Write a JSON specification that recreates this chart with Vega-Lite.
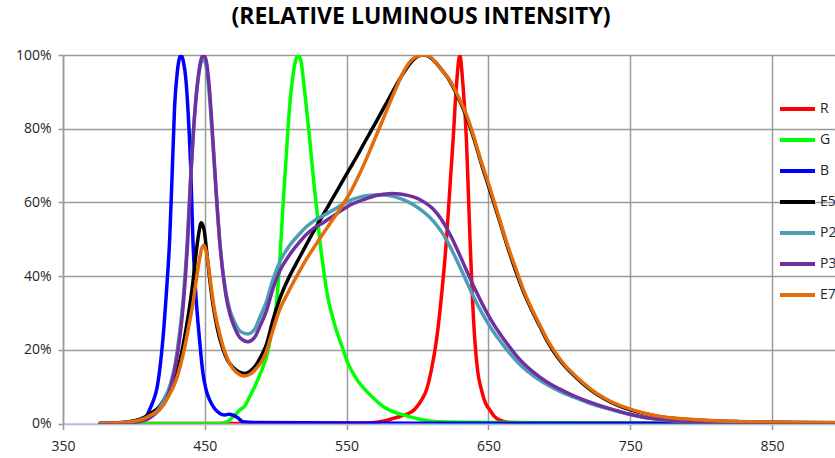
{
  "$schema": "https://vega.github.io/schema/vega-lite/v6.json",
  "autosize": {"type": "none"},
  "padding": {"left": 63, "top": 55, "right": 0, "bottom": 34.5},
  "width": 772,
  "height": 368.5,
  "background": "white",
  "title": {"text": "(RELATIVE LUMINOUS INTENSITY)", "font": "Open Sans", "fontSize": 23, "fontWeight": "bold", "color": "#000000", "anchor": "middle", "frame": "group", "dx": -28, "baseline": "alphabetic", "offset": 1},
  "config": {
    "view": {"stroke": null},
    "axis": {"labelFont": "Open Sans", "labelFontSize": 14, "labelColor": "#262626", "gridColor": "#9a9a9a", "gridWidth": 1.5, "tickColor": "#9a9a9a", "tickWidth": 1.5, "title": null}
  },
  "data": {"values": [
    {"s":"R","x":376,"y":0},{"s":"R","x":500,"y":0},{"s":"R","x":560,"y":0.1},{"s":"R","x":570,"y":0.3},{"s":"R","x":578,"y":0.8},{"s":"R","x":583,"y":1.4},{"s":"R","x":587.5,"y":1.9},{"s":"R","x":593,"y":2.6},{"s":"R","x":597,"y":3.5},{"s":"R","x":600,"y":4.8},{"s":"R","x":603,"y":6.5},{"s":"R","x":606.3,"y":9.1},{"s":"R","x":610,"y":15},{"s":"R","x":613.4,"y":22.7},{"s":"R","x":617,"y":35},{"s":"R","x":620.4,"y":49.8},{"s":"R","x":623,"y":65},{"s":"R","x":625.1,"y":77},{"s":"R","x":627.5,"y":92},{"s":"R","x":629.8,"y":100},{"s":"R","x":632,"y":92},{"s":"R","x":634.5,"y":77},{"s":"R","x":636,"y":61},{"s":"R","x":637,"y":50},{"s":"R","x":638.5,"y":36},{"s":"R","x":640.4,"y":22.7},{"s":"R","x":642.5,"y":14},{"s":"R","x":645.1,"y":9.1},{"s":"R","x":648,"y":5.5},{"s":"R","x":651,"y":3.7},{"s":"R","x":654,"y":2},{"s":"R","x":658,"y":0.9},{"s":"R","x":665,"y":0.3},{"s":"R","x":700,"y":0.1},{"s":"R","x":900,"y":0},
    {"s":"G","x":376,"y":0},{"s":"G","x":460,"y":0},{"s":"G","x":466,"y":0.5},{"s":"G","x":469,"y":1.5},{"s":"G","x":472,"y":2.6},{"s":"G","x":475,"y":3.8},{"s":"G","x":478,"y":4.6},{"s":"G","x":481,"y":6.8},{"s":"G","x":484,"y":9},{"s":"G","x":488,"y":12.5},{"s":"G","x":491,"y":15.3},{"s":"G","x":493.4,"y":18},{"s":"G","x":496,"y":22.5},{"s":"G","x":498.5,"y":27.5},{"s":"G","x":500.4,"y":32},{"s":"G","x":503,"y":45},{"s":"G","x":505.1,"y":58.8},{"s":"G","x":507.5,"y":73},{"s":"G","x":509.8,"y":86},{"s":"G","x":512,"y":94},{"s":"G","x":514,"y":98.5},{"s":"G","x":516,"y":100},{"s":"G","x":518,"y":98},{"s":"G","x":520,"y":91.5},{"s":"G","x":521.6,"y":86},{"s":"G","x":524,"y":77},{"s":"G","x":527,"y":65},{"s":"G","x":529,"y":58},{"s":"G","x":531,"y":50},{"s":"G","x":533.5,"y":42.5},{"s":"G","x":535.7,"y":36.5},{"s":"G","x":538,"y":32},{"s":"G","x":540.4,"y":28.5},{"s":"G","x":543,"y":25},{"s":"G","x":545.1,"y":22.7},{"s":"G","x":548,"y":19.5},{"s":"G","x":550,"y":17.2},{"s":"G","x":554,"y":14},{"s":"G","x":558,"y":11.5},{"s":"G","x":564,"y":8.8},{"s":"G","x":570,"y":6.5},{"s":"G","x":575.7,"y":4.6},{"s":"G","x":581,"y":3.5},{"s":"G","x":587.5,"y":2.6},{"s":"G","x":593,"y":2},{"s":"G","x":599,"y":1.4},{"s":"G","x":605,"y":0.9},{"s":"G","x":615,"y":0.5},{"s":"G","x":650,"y":0.3},{"s":"G","x":700,"y":0.2},{"s":"G","x":750,"y":0.1},{"s":"G","x":900,"y":0},
    {"s":"B","x":376,"y":0},{"s":"B","x":400,"y":0.3},{"s":"B","x":405,"y":0.8},{"s":"B","x":408,"y":1.5},{"s":"B","x":411,"y":3.7},{"s":"B","x":414,"y":6.5},{"s":"B","x":416,"y":9.1},{"s":"B","x":418,"y":14},{"s":"B","x":420.4,"y":22.7},{"s":"B","x":423,"y":36},{"s":"B","x":425.2,"y":49.8},{"s":"B","x":427,"y":68},{"s":"B","x":428.7,"y":86},{"s":"B","x":430.5,"y":95},{"s":"B","x":432,"y":99},{"s":"B","x":433.4,"y":100},{"s":"B","x":435,"y":98},{"s":"B","x":436.5,"y":94},{"s":"B","x":438,"y":86},{"s":"B","x":440,"y":70},{"s":"B","x":441.6,"y":50},{"s":"B","x":443.5,"y":36},{"s":"B","x":446.3,"y":22.7},{"s":"B","x":448.7,"y":13.6},{"s":"B","x":451,"y":9},{"s":"B","x":453.4,"y":6.4},{"s":"B","x":457,"y":4},{"s":"B","x":460.4,"y":2.8},{"s":"B","x":464,"y":2.3},{"s":"B","x":467,"y":2.5},{"s":"B","x":469.6,"y":2.3},{"s":"B","x":473,"y":1.6},{"s":"B","x":476.9,"y":0.5},{"s":"B","x":485,"y":0.3},{"s":"B","x":520,"y":0.2},{"s":"B","x":600,"y":0.1},{"s":"B","x":900,"y":0.1},
    {"s":"E5","x":376,"y":0},{"s":"E5","x":385,"y":0.1},{"s":"E5","x":395,"y":0.4},{"s":"E5","x":402,"y":0.9},{"s":"E5","x":407,"y":1.6},{"s":"E5","x":412,"y":2.8},{"s":"E5","x":418,"y":4.6},{"s":"E5","x":422,"y":7},{"s":"E5","x":426,"y":10},{"s":"E5","x":430,"y":13.8},{"s":"E5","x":433,"y":18},{"s":"E5","x":436,"y":24},{"s":"E5","x":439,"y":31},{"s":"E5","x":441.5,"y":38},{"s":"E5","x":443.5,"y":45},{"s":"E5","x":445.5,"y":51},{"s":"E5","x":447.5,"y":54.5},{"s":"E5","x":449.5,"y":52.5},{"s":"E5","x":451.5,"y":46},{"s":"E5","x":453.5,"y":39},{"s":"E5","x":456,"y":31.7},{"s":"E5","x":459,"y":25.5},{"s":"E5","x":462.5,"y":20.5},{"s":"E5","x":466,"y":17.2},{"s":"E5","x":470,"y":15.2},{"s":"E5","x":474,"y":14},{"s":"E5","x":478,"y":13.6},{"s":"E5","x":482,"y":14.2},{"s":"E5","x":486,"y":15.8},{"s":"E5","x":490,"y":18.5},{"s":"E5","x":493.5,"y":21.5},{"s":"E5","x":498,"y":28},{"s":"E5","x":503,"y":34},{"s":"E5","x":509.8,"y":40},{"s":"E5","x":516,"y":44.5},{"s":"E5","x":522,"y":48.8},{"s":"E5","x":528,"y":53},{"s":"E5","x":534,"y":57},{"s":"E5","x":540,"y":61},{"s":"E5","x":546,"y":65},{"s":"E5","x":552,"y":69},{"s":"E5","x":558,"y":73},{"s":"E5","x":564,"y":77.2},{"s":"E5","x":570,"y":81.3},{"s":"E5","x":576,"y":85.5},{"s":"E5","x":582,"y":89.7},{"s":"E5","x":587,"y":93.2},{"s":"E5","x":592,"y":96.2},{"s":"E5","x":596,"y":98.3},{"s":"E5","x":600,"y":99.6},{"s":"E5","x":604,"y":100},{"s":"E5","x":608,"y":99.6},{"s":"E5","x":612,"y":98.3},{"s":"E5","x":617,"y":96},{"s":"E5","x":622.7,"y":93},{"s":"E5","x":628,"y":89},{"s":"E5","x":634.5,"y":83.3},{"s":"E5","x":640,"y":77},{"s":"E5","x":645,"y":70.5},{"s":"E5","x":651,"y":63.3},{"s":"E5","x":657,"y":56},{"s":"E5","x":663,"y":48.5},{"s":"E5","x":669.8,"y":40.8},{"s":"E5","x":675,"y":35.5},{"s":"E5","x":680.5,"y":30.8},{"s":"E5","x":686.3,"y":26.3},{"s":"E5","x":692,"y":22},{"s":"E5","x":698,"y":18.4},{"s":"E5","x":704,"y":15.5},{"s":"E5","x":709.8,"y":13.2},{"s":"E5","x":716,"y":11},{"s":"E5","x":722,"y":9.1},{"s":"E5","x":727,"y":7.8},{"s":"E5","x":733.3,"y":6.4},{"s":"E5","x":740,"y":5.1},{"s":"E5","x":750,"y":3.7},{"s":"E5","x":760,"y":2.7},{"s":"E5","x":770,"y":1.9},{"s":"E5","x":780,"y":1.4},{"s":"E5","x":790,"y":1.1},{"s":"E5","x":800,"y":0.9},{"s":"E5","x":810,"y":0.7},{"s":"E5","x":827,"y":0.5},{"s":"E5","x":850,"y":0.35},{"s":"E5","x":875,"y":0.25},{"s":"E5","x":900,"y":0.2},
    {"s":"P2","x":376,"y":0},{"s":"P2","x":385,"y":0.1},{"s":"P2","x":395,"y":0.3},{"s":"P2","x":402,"y":0.7},{"s":"P2","x":408,"y":1.2},{"s":"P2","x":413,"y":2.3},{"s":"P2","x":418,"y":4.3},{"s":"P2","x":422,"y":7},{"s":"P2","x":426,"y":11},{"s":"P2","x":429,"y":16},{"s":"P2","x":432,"y":24},{"s":"P2","x":435,"y":35},{"s":"P2","x":438,"y":52},{"s":"P2","x":440,"y":67},{"s":"P2","x":441.6,"y":77},{"s":"P2","x":443.5,"y":87},{"s":"P2","x":445.5,"y":94},{"s":"P2","x":447.5,"y":98},{"s":"P2","x":449.2,"y":98.8},{"s":"P2","x":451,"y":97},{"s":"P2","x":453,"y":90},{"s":"P2","x":455.7,"y":76},{"s":"P2","x":458,"y":62.5},{"s":"P2","x":460.4,"y":50},{"s":"P2","x":463,"y":40.5},{"s":"P2","x":465,"y":35.5},{"s":"P2","x":467.5,"y":31},{"s":"P2","x":471,"y":27.5},{"s":"P2","x":475,"y":25},{"s":"P2","x":480.4,"y":24.3},{"s":"P2","x":485,"y":25.5},{"s":"P2","x":489,"y":29},{"s":"P2","x":493.4,"y":33},{"s":"P2","x":498,"y":39},{"s":"P2","x":503,"y":44},{"s":"P2","x":509.8,"y":48.3},{"s":"P2","x":516.9,"y":51.5},{"s":"P2","x":521.6,"y":53.4},{"s":"P2","x":527,"y":55},{"s":"P2","x":533.4,"y":56.4},{"s":"P2","x":540,"y":57.8},{"s":"P2","x":545.1,"y":59},{"s":"P2","x":552,"y":60.5},{"s":"P2","x":558,"y":61.3},{"s":"P2","x":564,"y":61.8},{"s":"P2","x":570,"y":62},{"s":"P2","x":576,"y":62},{"s":"P2","x":582,"y":61.7},{"s":"P2","x":587.5,"y":61.1},{"s":"P2","x":593,"y":60.2},{"s":"P2","x":599,"y":58.9},{"s":"P2","x":605,"y":57.2},{"s":"P2","x":611,"y":55},{"s":"P2","x":617,"y":52},{"s":"P2","x":622.7,"y":48.2},{"s":"P2","x":628.5,"y":43.6},{"s":"P2","x":634.5,"y":38.6},{"s":"P2","x":640,"y":34},{"s":"P2","x":646,"y":29.6},{"s":"P2","x":652,"y":25.8},{"s":"P2","x":658,"y":22.5},{"s":"P2","x":664,"y":19.5},{"s":"P2","x":670,"y":16.9},{"s":"P2","x":675,"y":15},{"s":"P2","x":681.5,"y":13},{"s":"P2","x":686.3,"y":11.7},{"s":"P2","x":693.3,"y":10.1},{"s":"P2","x":700,"y":8.8},{"s":"P2","x":709.8,"y":7.2},{"s":"P2","x":720,"y":5.7},{"s":"P2","x":733.3,"y":4.1},{"s":"P2","x":750,"y":2.4},{"s":"P2","x":760,"y":1.6},{"s":"P2","x":770,"y":1.1},{"s":"P2","x":780,"y":0.75},{"s":"P2","x":790,"y":0.5},{"s":"P2","x":800,"y":0.35},{"s":"P2","x":820,"y":0.22},{"s":"P2","x":850,"y":0.13},{"s":"P2","x":900,"y":0.08},
    {"s":"P3","x":376,"y":0},{"s":"P3","x":385,"y":0.1},{"s":"P3","x":395,"y":0.3},{"s":"P3","x":402,"y":0.6},{"s":"P3","x":408.7,"y":1},{"s":"P3","x":413,"y":2},{"s":"P3","x":418,"y":3.8},{"s":"P3","x":422.8,"y":6.4},{"s":"P3","x":426,"y":10},{"s":"P3","x":429,"y":15},{"s":"P3","x":432.2,"y":22.7},{"s":"P3","x":435,"y":33},{"s":"P3","x":438,"y":50},{"s":"P3","x":440,"y":66},{"s":"P3","x":441.6,"y":77},{"s":"P3","x":443.5,"y":87},{"s":"P3","x":445.5,"y":94.5},{"s":"P3","x":447.5,"y":99},{"s":"P3","x":449.2,"y":100},{"s":"P3","x":451,"y":98.5},{"s":"P3","x":453,"y":92},{"s":"P3","x":455.7,"y":77},{"s":"P3","x":458,"y":63},{"s":"P3","x":460.4,"y":50},{"s":"P3","x":463,"y":40},{"s":"P3","x":465,"y":34.5},{"s":"P3","x":467.5,"y":30},{"s":"P3","x":471,"y":26},{"s":"P3","x":475,"y":23.2},{"s":"P3","x":480.4,"y":22.2},{"s":"P3","x":485,"y":23.3},{"s":"P3","x":489,"y":26.5},{"s":"P3","x":493.4,"y":30.5},{"s":"P3","x":498,"y":36.5},{"s":"P3","x":503,"y":41.5},{"s":"P3","x":509.8,"y":45.8},{"s":"P3","x":516.9,"y":49.3},{"s":"P3","x":521.6,"y":51.3},{"s":"P3","x":527,"y":53},{"s":"P3","x":533.4,"y":54.5},{"s":"P3","x":540,"y":56.2},{"s":"P3","x":545.1,"y":57.5},{"s":"P3","x":552,"y":59.2},{"s":"P3","x":558,"y":60.2},{"s":"P3","x":564,"y":61},{"s":"P3","x":570,"y":61.8},{"s":"P3","x":576,"y":62.2},{"s":"P3","x":582,"y":62.4},{"s":"P3","x":587.5,"y":62.3},{"s":"P3","x":593,"y":61.9},{"s":"P3","x":599,"y":61.2},{"s":"P3","x":605,"y":60},{"s":"P3","x":611,"y":58.2},{"s":"P3","x":617,"y":55.3},{"s":"P3","x":622.7,"y":51.5},{"s":"P3","x":628.5,"y":46.8},{"s":"P3","x":634.5,"y":41.6},{"s":"P3","x":640,"y":36.9},{"s":"P3","x":646,"y":32.2},{"s":"P3","x":652,"y":28},{"s":"P3","x":658,"y":24.4},{"s":"P3","x":664,"y":21.2},{"s":"P3","x":670,"y":18.3},{"s":"P3","x":675,"y":16.2},{"s":"P3","x":681.5,"y":14},{"s":"P3","x":686.3,"y":12.6},{"s":"P3","x":693.3,"y":10.8},{"s":"P3","x":700,"y":9.4},{"s":"P3","x":709.8,"y":7.6},{"s":"P3","x":720,"y":6},{"s":"P3","x":733.3,"y":4.3},{"s":"P3","x":750,"y":2.5},{"s":"P3","x":760,"y":1.7},{"s":"P3","x":770,"y":1.2},{"s":"P3","x":780,"y":0.8},{"s":"P3","x":790,"y":0.55},{"s":"P3","x":800,"y":0.4},{"s":"P3","x":820,"y":0.25},{"s":"P3","x":850,"y":0.15},{"s":"P3","x":900,"y":0.1},
    {"s":"E7","x":376,"y":0},{"s":"E7","x":385,"y":0.1},{"s":"E7","x":395,"y":0.3},{"s":"E7","x":402,"y":0.7},{"s":"E7","x":407,"y":1.3},{"s":"E7","x":412,"y":2.3},{"s":"E7","x":418,"y":3.7},{"s":"E7","x":422,"y":5.8},{"s":"E7","x":426,"y":8.5},{"s":"E7","x":430,"y":12},{"s":"E7","x":433,"y":16},{"s":"E7","x":436,"y":21},{"s":"E7","x":439,"y":27},{"s":"E7","x":441.6,"y":32.5},{"s":"E7","x":444,"y":39},{"s":"E7","x":446,"y":44},{"s":"E7","x":447.8,"y":47.5},{"s":"E7","x":449.2,"y":48.4},{"s":"E7","x":450.8,"y":47},{"s":"E7","x":452.5,"y":43},{"s":"E7","x":454.5,"y":37},{"s":"E7","x":457,"y":30.5},{"s":"E7","x":460.4,"y":24.5},{"s":"E7","x":464,"y":19.5},{"s":"E7","x":468,"y":16},{"s":"E7","x":472,"y":14},{"s":"E7","x":475,"y":13.2},{"s":"E7","x":478,"y":12.9},{"s":"E7","x":482,"y":13.4},{"s":"E7","x":486,"y":14.8},{"s":"E7","x":490,"y":16.8},{"s":"E7","x":493.4,"y":19.5},{"s":"E7","x":497,"y":24},{"s":"E7","x":502.7,"y":30.8},{"s":"E7","x":508,"y":35},{"s":"E7","x":512,"y":38},{"s":"E7","x":517,"y":41.5},{"s":"E7","x":522,"y":44.8},{"s":"E7","x":527,"y":47.8},{"s":"E7","x":533,"y":51.3},{"s":"E7","x":540,"y":55.2},{"s":"E7","x":547,"y":59.2},{"s":"E7","x":553,"y":63},{"s":"E7","x":558,"y":66.8},{"s":"E7","x":563,"y":71},{"s":"E7","x":568,"y":75.5},{"s":"E7","x":574,"y":81},{"s":"E7","x":580,"y":86.6},{"s":"E7","x":586,"y":92},{"s":"E7","x":591,"y":96},{"s":"E7","x":596,"y":98.7},{"s":"E7","x":600,"y":99.7},{"s":"E7","x":605,"y":100},{"s":"E7","x":609,"y":99.5},{"s":"E7","x":613.4,"y":97.7},{"s":"E7","x":618,"y":95.5},{"s":"E7","x":622.7,"y":93.2},{"s":"E7","x":628,"y":89.3},{"s":"E7","x":634.5,"y":83.8},{"s":"E7","x":640,"y":77.5},{"s":"E7","x":645,"y":71},{"s":"E7","x":651,"y":64},{"s":"E7","x":657,"y":56.5},{"s":"E7","x":663,"y":49},{"s":"E7","x":669.8,"y":41.5},{"s":"E7","x":675,"y":36},{"s":"E7","x":680.5,"y":31.2},{"s":"E7","x":686.3,"y":26.7},{"s":"E7","x":692,"y":22.4},{"s":"E7","x":698,"y":18.8},{"s":"E7","x":704,"y":15.8},{"s":"E7","x":709.8,"y":13.5},{"s":"E7","x":716,"y":11.3},{"s":"E7","x":722,"y":9.4},{"s":"E7","x":727,"y":8},{"s":"E7","x":733.3,"y":6.6},{"s":"E7","x":740,"y":5.3},{"s":"E7","x":750,"y":3.9},{"s":"E7","x":760,"y":2.8},{"s":"E7","x":770,"y":2},{"s":"E7","x":780,"y":1.5},{"s":"E7","x":790,"y":1.2},{"s":"E7","x":800,"y":0.95},{"s":"E7","x":810,"y":0.75},{"s":"E7","x":827,"y":0.55},{"s":"E7","x":850,"y":0.4},{"s":"E7","x":875,"y":0.3},{"s":"E7","x":900,"y":0.25}
  ]},
  "mark": {"type": "line", "strokeWidth": 3.5, "interpolate": "monotone", "strokeJoin": "round", "strokeCap": "round", "clip": true},
  "encoding": {
    "x": {"field": "x", "type": "quantitative", "scale": {"domain": [350, 894.4], "nice": false, "zero": false},
      "axis": {"values": [350, 450, 550, 650, 750, 850], "domainColor": "#b4c8e4", "domainWidth": 1.5, "tickSize": 6, "labelPadding": 10, "labelFlush": false}},
    "y": {"field": "y", "type": "quantitative", "scale": {"domain": [0, 100], "nice": false},
      "axis": {"values": [0, 20, 40, 60, 80, 100], "labelExpr": "datum.value + '%'", "domainColor": "#9a9a9a", "domainWidth": 1.5, "tickSize": 5, "labelPadding": 7}},
    "color": {"field": "s", "type": "nominal",
      "scale": {"domain": ["R", "G", "B", "E5", "P2", "P3", "E7"], "range": ["#ff0000", "#00ff00", "#0000ff", "#000000", "#4a9eb5", "#7030a0", "#e46c0a"]},
      "legend": {"title": null, "orient": "none", "legendX": 715, "legendY": 38.6, "padding": 0, "symbolType": "stroke", "symbolSize": 1225, "symbolStrokeWidth": 4, "clipHeight": 30.8, "rowPadding": 0, "labelFont": "Open Sans", "labelFontSize": 14, "labelColor": "#262626", "labelOffset": 3}}
  }
}
